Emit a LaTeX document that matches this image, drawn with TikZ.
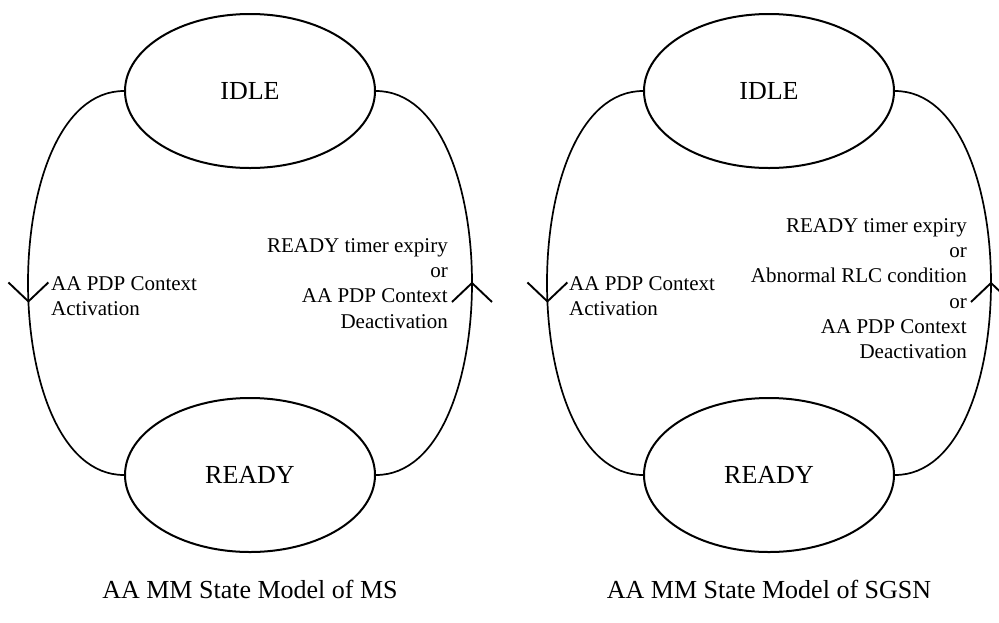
\documentclass[tikz,border=0pt]{standalone}
\usepackage{fontspec}
\setmainfont{Liberation Serif}
\usetikzlibrary{shapes.geometric,calc}
\begin{document}
\begin{tikzpicture}[x=1pt,y=-1pt,
  state/.style={draw, line width=2pt, ellipse, minimum width=250pt, minimum height=154pt, inner sep=0pt, font=\fontsize{26}{30}\selectfont},
  trans/.style={line width=1.7pt},
  vtip/.style={line width=1.9pt},
  lbl/.style={inner sep=0pt, font=\fontsize{21}{25.3}\selectfont},
  captxt/.style={inner sep=0pt, font=\fontsize{26}{30}\selectfont}]
\useasboundingbox (0,0) rectangle (999,622);

% ---- MS model ----
\node[state] (idleA) at (250,91) {IDLE};
\node[state] (readyA) at (250,475) {READY};
\draw[trans] (idleA.west) .. controls +(-128,0) and +(-128,0) .. coordinate[pos=0.532] (downA) (readyA.west);
\draw[trans] (idleA.east) .. controls +(128,0) and +(128,0) .. coordinate[pos=0.5] (upA) (readyA.east);
\draw[vtip] ($(downA)+(-20,-19)$) -- (downA) -- ($(downA)+(20,-19)$);
\draw[vtip] ($(upA)+(-20,19)$) -- (upA) -- ($(upA)+(20,19)$);
\node[lbl, align=left, anchor=north west] (actA) at (51,276) {AA PDP Context\\Activation};
\node[lbl, align=right, anchor=north east] (deactA) at (448,238) {READY timer expiry\\or\\AA PDP Context\\Deactivation};
\node[captxt, anchor=base] (capA) at (250,598) {AA MM State Model of MS};

% ---- SGSN model ----
\node[state] (idleB) at (769,91) {IDLE};
\node[state] (readyB) at (769,475) {READY};
\draw[trans] (idleB.west) .. controls +(-128,0) and +(-128,0) .. coordinate[pos=0.532] (downB) (readyB.west);
\draw[trans] (idleB.east) .. controls +(128,0) and +(128,0) .. coordinate[pos=0.5] (upB) (readyB.east);
\draw[vtip] ($(downB)+(-20,-19)$) -- (downB) -- ($(downB)+(20,-19)$);
\draw[vtip] ($(upB)+(-20,19)$) -- (upB) -- ($(upB)+(20,19)$);
\node[lbl, align=left, anchor=north west] (actB) at (569,276) {AA PDP Context\\Activation};
\node[lbl, align=right, anchor=north east] (deactB) at (967,218) {READY timer expiry\\or\\Abnormal RLC condition\\or\\AA PDP Context\\Deactivation};
\node[captxt, anchor=base] (capB) at (769,598) {AA MM State Model of SGSN};
\end{tikzpicture}
\end{document}
